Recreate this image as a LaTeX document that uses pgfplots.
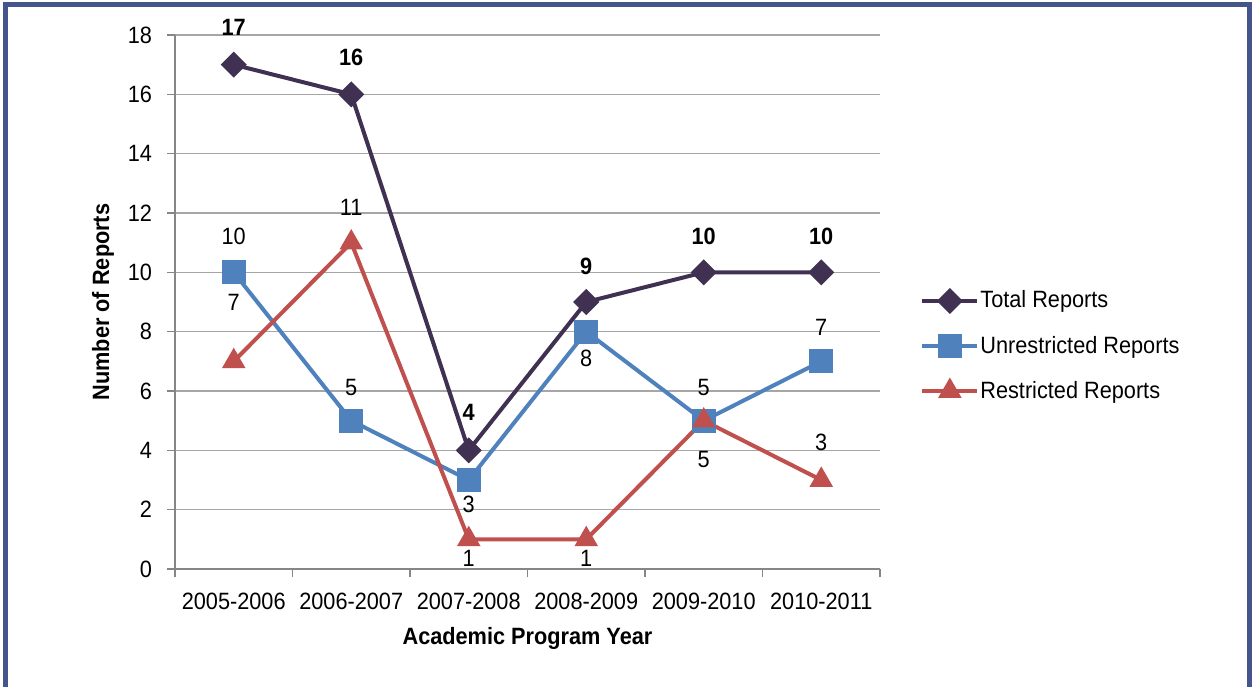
\documentclass[border=0pt]{standalone}
\usepackage{pgfplots}
\pgfplotsset{compat=1.18}
\usepackage{fontspec}
\setmainfont{Liberation Sans}[FakeStretch=0.92]
\definecolor{totc}{RGB}{64,49,82}
\definecolor{unc}{RGB}{79,129,189}
\definecolor{rec}{RGB}{192,80,77}
\definecolor{framec}{RGB}{68,84,140}
\definecolor{gridc}{RGB}{166,166,166}
\definecolor{axc}{RGB}{134,134,134}
\pgfplotstableread{
x y dy
0 17 18.5
1 16 18.5
2 4 19
3 9 18
4 10 18
5 10 18
}\total
\pgfplotstableread{
x y dy
0 10 18
1 5 16.5
2 3 -12
3 8 -13.5
4 5 16.5
5 7 17
}\unres
\pgfplotstableread{
x y dy
0 7 29.5
1 11 17.5
2 1 -9.5
3 1 -9.5
4 5 -19.5
5 3 19
}\restr
\pgfplotsset{lbl/.style={nodes near coords,
 visualization depends on={\thisrow{dy} \as \dy},
 every node near coord/.append style={anchor=center, yshift=\dy, text=black, inner sep=0pt}}}
\begin{document}
\begin{tikzpicture}
\useasboundingbox (0,0) rectangle (627pt,343pt);
\draw[framec, line width=2.5pt] (2.5pt,-5pt) -- (2.5pt,340.75pt) -- (624.75pt,340.75pt) -- (624.75pt,-5pt);
\begin{axis}[
 at={(87.5pt,58.5pt)}, anchor=south west,
 scale only axis, width=352.5pt, height=267pt,
 xmin=-0.5, xmax=5.5, ymin=0, ymax=18,
 axis lines=left, axis line style={-, axc, line width=0.75pt},
 clip=false,
 xtick={0,...,5},
 xticklabels={2005-2006,2006-2007,2007-2008,2008-2009,2009-2010,2010-2011},
 minor xtick={-0.5,0.5,...,5.5},
 major x tick style={draw=none},
 minor x tick style={axc, line width=0.75pt},
 ytick={0,2,...,18},
 y tick style={axc, line width=0.75pt},
 tick align=outside,
 major tick length=4pt, minor tick length=4pt,
 ymajorgrids, grid style={gridc, line width=0.75pt},
 font=\fontsize{11.8pt}{13pt}\selectfont,
 /pgf/number format/assume math mode=true,
 xticklabel style={yshift=-4.5pt},
 yticklabel style={xshift=-4pt},
 xlabel={\bfseries Academic Program Year},
 ylabel={\bfseries Number of Reports},
 xlabel style={at={(axis description cs:0.5,-0.1292)}, anchor=center},
 ylabel style={at={(axis description cs:-0.1021,0.5)}, anchor=center},
 legend style={at={(axis description cs:1.0567,0.4176)}, anchor=west, draw=none, fill=none,
   inner sep=0pt, row sep=11.5pt, nodes={inner sep=0.5pt, anchor=west}, font=\fontsize{11.8pt}{13pt}\selectfont},
 legend cell align=left,
 legend image code/.code={\draw[mark repeat=2,mark phase=2,#1] plot coordinates {(0pt,0pt) (13.75pt,0pt) (27.5pt,0pt)};},
]
\addplot[totc, line width=2pt, mark=square*, mark size=3.6pt, mark options={rotate=45, solid}, lbl,
  every node near coord/.append style={font=\fontsize{11.8pt}{13pt}\selectfont\bfseries}] table[x=x,y=y] {\total};
\addlegendentry{Total Reports}
\addplot[unc, line width=2pt, mark=square*, mark size=5pt, mark options={solid}, lbl] table[x=x,y=y] {\unres};
\addlegendentry{Unrestricted Reports}
\addplot[rec, line width=2pt, mark=triangle*, mark size=4.8pt, mark options={solid}, lbl] table[x=x,y=y] {\restr};
\addlegendentry{Restricted Reports}
\end{axis}
\end{tikzpicture}
\end{document}
